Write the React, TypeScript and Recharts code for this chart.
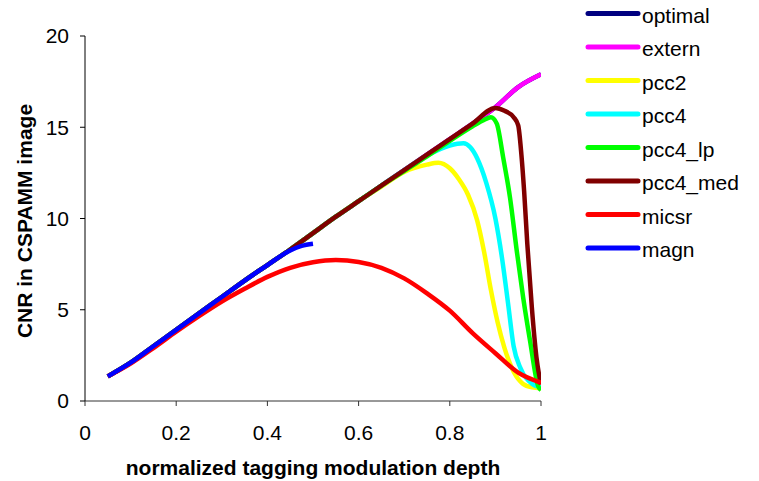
import { LineChart, Line, XAxis, YAxis, Legend } from "recharts";

const FONT = "'Liberation Sans', Arial, sans-serif";

const xTicks = [0, 0.2, 0.4, 0.6, 0.8, 1];
const yTicks = [0, 5, 10, 15, 20];

const baseX = [0.05, 0.1, 0.15, 0.2, 0.25, 0.3, 0.35, 0.4, 0.45, 0.5, 0.55, 0.6, 0.65, 0.7, 0.75, 0.8, 0.85, 0.9, 0.95, 1.0];
const optimalY = [1.35, 2.1, 3.0, 3.9, 4.8, 5.7, 6.6, 7.45, 8.3, 9.2, 10.1, 10.95, 11.8, 12.65, 13.5, 14.35, 15.2, 16.1, 17.2, 17.9];
const externY = [1.35, 2.1, 3.0, 3.9, 4.8, 5.7, 6.6, 7.45, 8.3, 9.2, 10.1, 10.95, 11.8, 12.65, 13.5, 14.35, 15.2, 16.1, 17.2, 17.9];

const pcc2X = [0.05, 0.1, 0.15, 0.2, 0.25, 0.3, 0.35, 0.4, 0.45, 0.5, 0.55, 0.6, 0.65, 0.7, 0.75, 0.775, 0.8, 0.82, 0.84, 0.86, 0.875, 0.89, 0.905, 0.92, 0.94, 0.96, 0.98, 1.0];
const pcc2Y = [1.35, 2.1, 3.0, 3.9, 4.8, 5.7, 6.6, 7.45, 8.3, 9.2, 10.1, 10.95, 11.75, 12.55, 12.95, 13.05, 12.75, 12.15, 11.3, 9.9, 8.2, 6.1, 4.3, 2.9, 1.6, 0.95, 0.75, 0.7];

const pcc4X = [0.05, 0.1, 0.15, 0.2, 0.25, 0.3, 0.35, 0.4, 0.45, 0.5, 0.55, 0.6, 0.65, 0.7, 0.75, 0.8, 0.83, 0.845, 0.86, 0.88, 0.9, 0.915, 0.928, 0.94, 0.955, 0.98, 1.0];
const pcc4Y = [1.35, 2.1, 3.0, 3.9, 4.8, 5.7, 6.6, 7.45, 8.3, 9.2, 10.1, 10.95, 11.8, 12.65, 13.45, 14.0, 14.12, 13.9, 13.3, 11.95, 10.0, 7.75, 5.3, 3.0, 1.8, 0.95, 0.75];

const pcc4lpX = [0.05, 0.1, 0.15, 0.2, 0.25, 0.3, 0.35, 0.4, 0.45, 0.5, 0.55, 0.6, 0.65, 0.7, 0.75, 0.8, 0.85, 0.875, 0.89, 0.903, 0.917, 0.932, 0.947, 0.961, 0.976, 0.994, 1.0];
const pcc4lpY = [1.35, 2.1, 3.0, 3.9, 4.8, 5.7, 6.6, 7.45, 8.3, 9.2, 10.1, 10.95, 11.8, 12.6, 13.4, 14.25, 15.05, 15.4, 15.55, 15.2, 13.35, 11.15, 8.2, 5.65, 3.3, 0.8, 0.6];

const pcc4medX = [0.05, 0.1, 0.15, 0.2, 0.25, 0.3, 0.35, 0.4, 0.45, 0.5, 0.55, 0.6, 0.65, 0.7, 0.75, 0.8, 0.85, 0.9, 0.92, 0.94, 0.95, 0.957, 0.963, 0.97, 0.98, 0.99, 1.0];
const pcc4medY = [1.35, 2.1, 3.0, 3.9, 4.8, 5.7, 6.6, 7.45, 8.3, 9.2, 10.1, 10.95, 11.8, 12.65, 13.5, 14.35, 15.2, 16.05, 15.9, 15.55, 15.1, 13.5, 11.5, 8.6, 5.1, 2.4, 0.9];

const micsrY = [1.35, 2.05, 2.9, 3.8, 4.65, 5.45, 6.15, 6.8, 7.3, 7.6, 7.72, 7.62, 7.3, 6.72, 5.9, 4.95, 3.72, 2.62, 1.55, 1.0];

const magnX = [0.05, 0.1, 0.15, 0.2, 0.25, 0.3, 0.35, 0.4, 0.45, 0.475, 0.5];
const magnY = [1.35, 2.1, 3.0, 3.9, 4.8, 5.7, 6.6, 7.45, 8.25, 8.5, 8.62];

const toPoints = (xs: number[], ys: number[]) => xs.map((x, i) => ({ x, y: ys[i] }));

const series = [
  { name: "optimal", color: "#000080", data: toPoints(baseX, optimalY) },
  { name: "extern", color: "#ff00ff", data: toPoints(baseX, externY) },
  { name: "pcc2", color: "#ffff00", data: toPoints(pcc2X, pcc2Y) },
  { name: "pcc4", color: "#00ffff", data: toPoints(pcc4X, pcc4Y) },
  { name: "pcc4_lp", color: "#00ff00", data: toPoints(pcc4lpX, pcc4lpY) },
  { name: "pcc4_med", color: "#800000", data: toPoints(pcc4medX, pcc4medY) },
  { name: "micsr", color: "#ff0000", data: toPoints(baseX, micsrY) },
  { name: "magn", color: "#0000ff", data: toPoints(magnX, magnY) },
];

const tickStyle = { fill: "#000", fontSize: 21, fontFamily: FONT };

function LegendBox() {
  return (
    <svg width={174} height={270} style={{ display: "block" }}>
      {series.map((s, i) => {
        const cy = 13.5 + i * 33.5;
        return (
          <g key={s.name}>
            <line x1={5} x2={55} y1={cy} y2={cy} stroke={s.color} strokeWidth={5} strokeLinecap="round" />
            <text x={59} y={cy + 9} fontSize={21} fontFamily={FONT} fill="#000">
              {s.name}
            </text>
          </g>
        );
      })}
    </svg>
  );
}

export default function App() {
  return (
    <div style={{ position: "absolute", left: 0, top: 0, width: 759, height: 481, background: "#fff" }}>
      <LineChart width={759} height={481} margin={{ top: 36, right: 218, bottom: 0, left: 0 }}>
        <XAxis
          type="number"
          dataKey="x"
          domain={[0, 1]}
          ticks={xTicks}
          tickFormatter={(v) => String(v)}
          tick={tickStyle}
          tickSize={5}
          tickMargin={19}
          height={80}
          stroke="#333"
          allowDataOverflow
          label={() => (
            <text x={313} y={475} textAnchor="middle" fontSize={21} fontWeight="bold" fontFamily={FONT} fill="#000">
              normalized tagging modulation depth
            </text>
          )}
        />
        <YAxis
          type="number"
          domain={[0, 20]}
          ticks={yTicks}
          tick={tickStyle}
          tickSize={5}
          tickMargin={11}
          width={85}
          stroke="#000"
          allowDataOverflow
          label={() => (
            <text
              x={32}
              y={221}
              transform="rotate(-90 32 221)"
              textAnchor="middle"
              fontSize={21}
              fontWeight="bold"
              fontFamily={FONT}
              fill="#000"
            >
              CNR in CSPAMM image
            </text>
          )}
        />
        <Legend
          layout="vertical"
          align="center"
          verticalAlign="middle"
          wrapperStyle={{ left: 583, top: 0, width: 174, height: 270 }}
          content={() => <LegendBox />}
        />
        {series.map((s) => (
          <Line
            key={s.name}
            data={s.data}
            dataKey="y"
            name={s.name}
            type="monotone"
            stroke={s.color}
            strokeWidth={4.5}
            strokeLinejoin="round"
            dot={false}
            activeDot={false}
            isAnimationActive={false}
          />
        ))}
      </LineChart>
    </div>
  );
}
